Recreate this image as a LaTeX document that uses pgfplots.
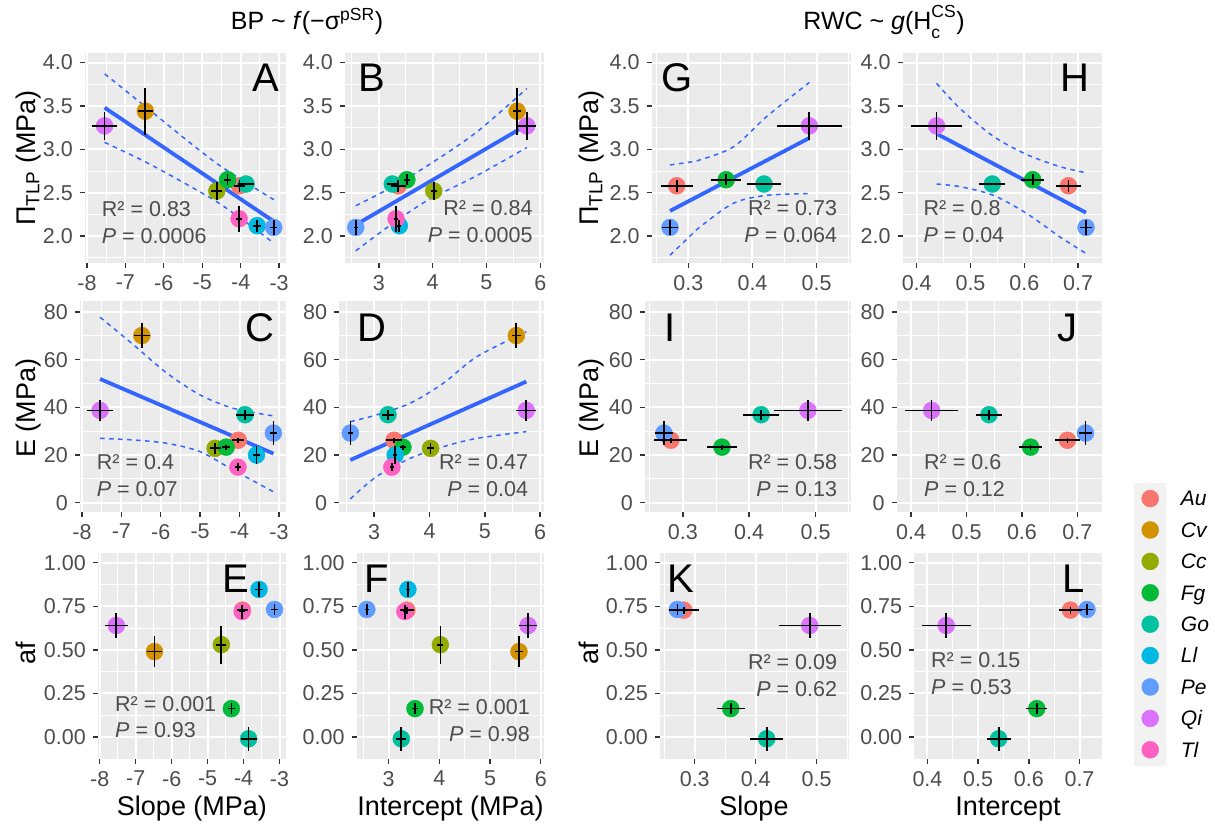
\documentclass[border=0pt]{standalone}
\usepackage{fontspec}
\setmainfont{Liberation Sans}
\usepackage{pgfplots}
\usepackage{pgfplotstable}
\pgfplotsset{compat=1.18}
\definecolor{cAu}{HTML}{F8766D}
\definecolor{cCv}{HTML}{D39200}
\definecolor{cCc}{HTML}{93AA00}
\definecolor{cFg}{HTML}{00BA38}
\definecolor{cGo}{HTML}{00C19F}
\definecolor{cLl}{HTML}{00B9E3}
\definecolor{cPe}{HTML}{619CFF}
\definecolor{cQi}{HTML}{DB72FB}
\definecolor{cTl}{HTML}{FF61C3}
\definecolor{panelgrey}{HTML}{EBEBEB}
\definecolor{tickc}{HTML}{333333}
\definecolor{labc}{HTML}{4D4D4D}
\definecolor{ggblue}{HTML}{3366FF}
\definecolor{keybg}{HTML}{F2F2F2}
\newcommand\tickfont{\fontsize{21.5}{24}\selectfont}
\newcommand\annfont{\fontsize{21.5}{24}\selectfont}
\newcommand\titfont{\fontsize{27}{30}\selectfont}
\newcommand\letfont{\fontsize{40}{44}\selectfont}

\pgfplotstableread{
s x1 ex1 x2 ex2 x3 ex3 x4 ex4 pi epi E eE af eaf
Au -4.03 0.15 3.36 0.14 0.282 0.025 0.682 0.023 2.58 0.07 26.2 1.0 0.728 0.02
Cv -6.48 0.20 5.57 0.08 nan nan nan nan 3.44 0.27 70.1 5.1 0.49 0.09
Cc -4.62 0.14 4.02 0.06 nan nan nan nan 2.52 0.10 22.8 2.2 0.53 0.11
Fg -4.34 0.10 3.52 0.06 0.359 0.023 0.6156 0.021 2.65 0.06 23.3 1.0 0.163 0.033
Go -3.86 0.22 3.25 0.10 0.418 0.027 0.5405 0.024 2.60 0.01 36.9 2.1 -0.01 0.07
Ll -3.57 0.10 3.38 0.04 nan nan nan nan 2.12 0.07 20.0 3.8 0.847 0.045
Pe -3.14 0.09 2.57 0.04 0.2715 0.013 0.7147 0.012 2.10 0.09 29.2 5.0 0.732 0.03
Qi -7.54 0.32 5.75 0.18 0.4885 0.051 0.437 0.048 3.27 0.16 38.7 4.5 0.64 0.072
Tl -4.04 0.08 3.32 0.04 nan nan nan nan 2.20 0.15 14.9 1.7 0.72 0.04
}\data

\pgfplotsset{
 gg/.style={scale only axis, anchor=south west,
  axis background/.style={fill=panelgrey},
  axis line style={draw=none},
  grid=both,
  major grid style={draw=white, line width=2pt},
  minor grid style={draw=white, line width=1pt},
  tick align=outside, major tick length=5pt, minor tick length=0pt,
  tick style={draw=tickc, line width=1.4pt},
  xtick pos=left, ytick pos=left,
  ticklabel style={font=\tickfont, text=labc, inner sep=0pt},
  yticklabel style={anchor=east},
  xticklabel style={anchor=north},
  xticklabel shift=7pt, yticklabel shift=7pt,
  clip=true, clip marker paths=true},
 col1/.style={xmin=-8.05, xmax=-2.82, xtick={-8,-7,-6,-5,-4,-3}, xticklabels={-8,-7,-6,-5,-4,-3}, minor xtick={-7.5,-6.5,-5.5,-4.5,-3.5}},
 col2/.style={xmin=2.37, xmax=6.07, xtick={3,4,5,6}, xticklabels={3,4,5,6}, minor xtick={2.5,3.5,4.5,5.5}},
 col3/.style={xmin=0.243, xmax=0.553, xtick={0.3,0.4,0.5}, xticklabels={0.3,0.4,0.5}, minor xtick={0.25,0.35,0.45,0.55}},
 col4/.style={xmin=0.374, xmax=0.745, xtick={0.4,0.5,0.6,0.7}, xticklabels={0.4,0.5,0.6,0.7}, minor xtick={0.45,0.55,0.65}},
 row1/.style={ymin=1.69, ymax=4.11, ytick={2,2.5,3,3.5,4}, yticklabels={2.0,2.5,3.0,3.5,4.0}, minor ytick={1.75,2.25,2.75,3.25,3.75}},
 row2/.style={ymin=-3.9, ymax=84.6, ytick={0,20,40,60,80}, yticklabels={0,20,40,60,80}, minor ytick={10,30,50,70}},
 row3/.style={ymin=-0.126, ymax=1.056, ytick={0,0.25,0.5,0.75,1}, yticklabels={0.00,0.25,0.50,0.75,1.00}, minor ytick={0.125,0.375,0.625,0.875}},
 spp/.style={scatter/classes={Au={draw=cAu,fill=cAu},Cv={draw=cCv,fill=cCv},Cc={draw=cCc,fill=cCc},Fg={draw=cFg,fill=cFg},Go={draw=cGo,fill=cGo},Ll={draw=cLl,fill=cLl},Pe={draw=cPe,fill=cPe},Qi={draw=cQi,fill=cQi},Tl={draw=cTl,fill=cTl}}},
 reg/.style={draw=ggblue, line width=3.8pt, mark=none},
 band/.style={draw=ggblue, line width=1.5pt, mark=none, dash pattern=on 4.5pt off 4.5pt, smooth},
}
\newcommand{\spts}[4]{%
 \addplot[scatter, only marks, mark=*, mark size=8.5pt, spp, scatter src=explicit symbolic] table[x=#1, y=#3, meta=s] {\data};
 \addplot[forget plot, draw=none, mark=none, error bars/.cd, x dir=both, x explicit, y dir=both, y explicit, error mark=none, error bar style={draw=black, line width=1.7pt, solid}] table[x=#1, y=#3, x error=#2, y error=#4] {\data};
}
\newcommand{\leg}[1]{\addlegendimage{legend image code/.code={\fill[c#1] (8.5pt,7.3pt) circle (8.5pt);}}\addlegendentry{#1}}

\begin{document}
\begin{tikzpicture}[x=1pt,y=1pt]
\useasboundingbox (0pt,0pt) rectangle (1215pt,825pt);

% ---------- Row 1 ----------
\begin{axis}[gg, col1, row1, at={(85pt,562pt)}, width=201pt, height=210pt]
 \addplot[band] coordinates {(-7.54,3.87) (-6.5,3.50) (-5.5,3.14) (-4.6,2.83) (-3.8,2.60) (-3.14,2.42)};
 \addplot[band] coordinates {(-7.54,3.08) (-6.5,2.86) (-5.5,2.62) (-4.6,2.39) (-3.8,2.14) (-3.14,1.92)};
 \addplot[reg] coordinates {(-7.54,3.48) (-3.14,2.17)};
 \spts{x1}{ex1}{pi}{epi}
\end{axis}
\begin{axis}[gg, col2, row1, at={(345pt,562pt)}, width=199pt, height=210pt]
 \addplot[band] coordinates {(2.57,2.35) (3.2,2.55) (3.9,2.81) (4.8,3.19) (5.75,3.70)};
 \addplot[band] coordinates {(2.57,1.83) (3.2,2.12) (3.9,2.41) (4.8,2.69) (5.75,3.02)};
 \addplot[reg] coordinates {(2.57,2.13) (5.75,3.28)};
 \spts{x2}{ex2}{pi}{epi}
\end{axis}
\begin{axis}[gg, col3, row1, at={(651.7pt,562pt)}, width=199pt, height=210pt]
 \addplot[band] coordinates {(0.2715,2.82) (0.30,2.85) (0.319,2.88) (0.3707,3.03) (0.4225,3.38) (0.4885,3.77)};
 \addplot[band] coordinates {(0.2715,1.78) (0.30,1.98) (0.319,2.11) (0.3707,2.38) (0.4225,2.47) (0.4885,2.49)};
 \addplot[reg] coordinates {(0.2715,2.29) (0.4885,3.13)};
 \spts{x3}{ex3}{pi}{epi}
\end{axis}
\begin{axis}[gg, col4, row1, at={(902.7pt,562pt)}, width=199.6pt, height=210pt]
 \addplot[band] coordinates {(0.437,3.76) (0.4805,3.47) (0.5424,3.15) (0.6045,2.94) (0.6664,2.80) (0.7147,2.73)};
 \addplot[band] coordinates {(0.437,2.60) (0.4805,2.57) (0.5424,2.47) (0.6045,2.26) (0.6664,1.99) (0.7147,1.80)};
 \addplot[reg] coordinates {(0.437,3.18) (0.7147,2.27)};
 \spts{x4}{ex4}{pi}{epi}
\end{axis}

% ---------- Row 2 ----------
\begin{axis}[gg, col1, row2, at={(80pt,313pt)}, width=206pt, height=211pt]
 \addplot[band] coordinates {(-7.54,77.8) (-6.69,66.2) (-5.84,54.3) (-5.0,45.2) (-4.16,39.6) (-3.14,36.4)};
 \addplot[band] coordinates {(-7.54,27.0) (-6.69,26.3) (-5.84,24.9) (-5.0,21.4) (-4.16,13.7) (-3.14,4.6)};
 \addplot[reg] coordinates {(-7.54,51.9) (-3.14,20.6)};
 \spts{x1}{ex1}{E}{eE}
\end{axis}
\begin{axis}[gg, col2, row2, at={(339.3pt,313pt)}, width=204.7pt, height=211pt]
 \addplot[band] coordinates {(2.57,34.0) (3.04,36.8) (3.65,41.7) (4.25,50.1) (4.86,61.3) (5.75,71.7)};
 \addplot[band] coordinates {(2.57,1.6) (3.04,10.9) (3.65,18.6) (4.25,23.5) (4.86,27.0) (5.75,29.8)};
 \addplot[reg] coordinates {(2.57,17.9) (5.75,50.8)};
 \spts{x2}{ex2}{E}{eE}
\end{axis}
\begin{axis}[gg, col3, row2, at={(645pt,313pt)}, width=205.7pt, height=211pt]
 \spts{x3}{ex3}{E}{eE}
\end{axis}
\begin{axis}[gg, col4, row2, at={(896.7pt,313pt)}, width=205.6pt, height=211pt]
 \spts{x4}{ex4}{E}{eE}
\end{axis}

% ---------- Row 3 ----------
\begin{axis}[gg, col1, row3, at={(98pt,66pt)}, width=188pt, height=206pt]
 \spts{x1}{ex1}{af}{eaf}
\end{axis}
\begin{axis}[gg, col2, row3, at={(356.7pt,66pt)}, width=187.6pt, height=206pt]
 \spts{x2}{ex2}{af}{eaf}
\end{axis}
\begin{axis}[gg, col3, row3, at={(660pt,66pt)}, width=189pt, height=206pt]
 \spts{x3}{ex3}{af}{eaf}
\end{axis}
\begin{axis}[gg, col4, row3, at={(914.3pt,66pt)}, width=188pt, height=206pt]
 \spts{x4}{ex4}{af}{eaf}
\end{axis}

% ---------- Legend ----------
\fill[keybg] (1134pt,59pt) rectangle (1166pt,342pt);
\begin{axis}[hide axis, scale only axis, anchor=north west, at={(1141.5pt,339.1pt)}, width=50pt, height=50pt,
  xmin=0, xmax=1, ymin=0, ymax=1,
  legend style={at={(rel axis cs:0,1)}, anchor=north west, draw=none, fill=none, inner sep=0pt, outer sep=0pt,
    row sep=0pt, column sep=0pt, font=\fontsize{21}{24}\selectfont\itshape,
    nodes={inner sep=0pt, text height=20pt, text depth=11.4pt, anchor=base west},
    /tikz/every odd column/.append style={column sep=22pt}},
  legend cell align=left]
 \leg{Au}\leg{Cv}\leg{Cc}\leg{Fg}\leg{Go}\leg{Ll}\leg{Pe}\leg{Qi}\leg{Tl}
\end{axis}

% ---------- Titles ----------
\node[anchor=base, font=\fontsize{25}{28}\selectfont, inner sep=0pt] at (307pt,795pt) {BP {\char"7E} \textit{f}(−σ\textsuperscript{pSR})};
\node[anchor=base, font=\fontsize{25}{28}\selectfont, inner sep=0pt] at (884pt,795pt) {RWC {\char"7E} \textit{g}(H\rlap{\raisebox{-0.35ex}{\textsubscript{c}}}\raisebox{0.25ex}{\textsuperscript{CS}})};

% ---------- Axis titles ----------
\foreach \xx in {35,598} {
 \node[anchor=base, rotate=90, font=\titfont, inner sep=0pt] at (\xx pt,667pt) {Π\textsubscript{TLP} (MPa)};
 \node[anchor=base, rotate=90, font=\titfont, inner sep=0pt] at (\xx pt,417pt) {E (MPa)};
 \node[anchor=base, rotate=90, font=\titfont, inner sep=0pt] at (\xx pt,172pt) {af};
}
\node[anchor=base, font=\titfont, inner sep=0pt] at (192pt,10pt) {Slope (MPa)};
\node[anchor=base, font=\titfont, inner sep=0pt] at (450.5pt,10pt) {Intercept (MPa)};
\node[anchor=base, font=\titfont, inner sep=0pt] at (754pt,10pt) {Slope};
\node[anchor=base, font=\titfont, inner sep=0pt] at (1008pt,10pt) {Intercept};

% ---------- Panel letters ----------
\begin{scope}[every node/.style={anchor=base, font=\letfont, inner sep=0pt}]
\node at (266pt,733pt) {A}; \node at (371.7pt,733pt) {B}; \node at (677.5pt,733pt) {G}; \node at (1075pt,733pt) {H};
\node at (260pt,483pt) {C}; \node at (371.5pt,483pt) {D}; \node at (670pt,483pt) {I}; \node at (1067pt,483pt) {J};
\node at (236pt,233pt) {E}; \node at (377pt,233pt) {F}; \node at (681pt,233pt) {K}; \node at (1074pt,233pt) {L};
\end{scope}

% ---------- Annotations ----------
\begin{scope}[every node/.style={font=\annfont, text=labc, inner sep=0pt}]
\node[anchor=base west] at (101.7pt,608.3pt) {R² = 0.83}; \node[anchor=base west] at (101.7pt,581.5pt) {\textit{P} = 0.0006};
\node[anchor=base east] at (532.7pt,609.3pt) {R² = 0.84}; \node[anchor=base east] at (532.7pt,582.5pt) {\textit{P} = 0.0005};
\node[anchor=base east] at (837.3pt,609.3pt) {R² = 0.73}; \node[anchor=base east] at (837.3pt,582.5pt) {\textit{P} = 0.064};
\node[anchor=base west] at (923.3pt,609.3pt) {R² = 0.8}; \node[anchor=base west] at (923.3pt,582.5pt) {\textit{P} = 0.04};
\node[anchor=base west] at (96.7pt,355.6pt) {R² = 0.4}; \node[anchor=base west] at (96.7pt,328.8pt) {\textit{P} = 0.07};
\node[anchor=base east] at (528.3pt,355.6pt) {R² = 0.47}; \node[anchor=base east] at (528.3pt,328.8pt) {\textit{P} = 0.04};
\node[anchor=base east] at (837.3pt,355.6pt) {R² = 0.58}; \node[anchor=base east] at (837.3pt,328.8pt) {\textit{P} = 0.13};
\node[anchor=base west] at (924pt,355.6pt) {R² = 0.6}; \node[anchor=base west] at (924pt,328.8pt) {\textit{P} = 0.12};
\node[anchor=base west] at (115pt,114pt) {R² = 0.001}; \node[anchor=base west] at (115pt,87.2pt) {\textit{P} = 0.93};
\node[anchor=base east] at (530pt,110.5pt) {R² = 0.001}; \node[anchor=base east] at (530pt,83.7pt) {\textit{P} = 0.98};
\node[anchor=base east] at (837.3pt,155.6pt) {R² = 0.09}; \node[anchor=base east] at (837.3pt,128.8pt) {\textit{P} = 0.62};
\node[anchor=base west] at (931pt,157.3pt) {R² = 0.15}; \node[anchor=base west] at (931pt,130.5pt) {\textit{P} = 0.53};
\end{scope}
\end{tikzpicture}
\end{document}
